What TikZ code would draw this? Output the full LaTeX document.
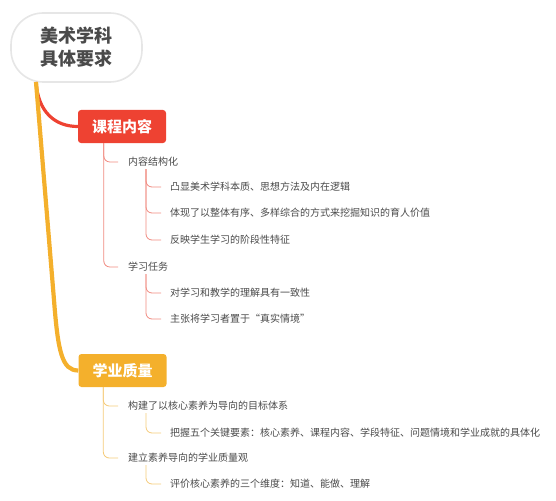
\documentclass[tikz,border=0pt]{standalone}
\usepackage{fontspec}
\newfontfamily\cjk{Noto Sans CJK SC}
\definecolor{txt}{HTML}{4A4A4A}
\definecolor{redm}{HTML}{EE4232}
\definecolor{yelm}{HTML}{F4B02C}
\definecolor{redl}{HTML}{F08A80}
\definecolor{yell}{HTML}{F5CB7A}
\definecolor{rootb}{HTML}{E6E6E6}
\tikzset{
  rootbox/.style={draw=rootb, line width=1.6pt, fill=white, rounded corners=32pt,
    minimum width=131pt, minimum height=69pt, align=center, inner sep=0pt,
    font=\cjk\bfseries\fontsize{18}{23}\selectfont, text=txt},
  mainbox/.style={rounded corners=3pt, minimum width=88pt, minimum height=33pt,
    inner sep=0pt, font=\cjk\bfseries\fontsize{15}{18}\selectfont, text=white},
  leaf/.style={anchor=west, inner sep=0pt, text height=8.5pt, text depth=1.5pt,
    font=\cjk\fontsize{10}{12}\selectfont, text=txt},
  thinr/.style={draw=redl, line width=0.8pt, rounded corners=6pt},
  thiny/.style={draw=yell, line width=0.8pt, rounded corners=6pt}
}
\begin{document}
\begin{tikzpicture}[x=1pt,y=-1pt]
\useasboundingbox (0,0) rectangle (556,500);
% root
\node[rootbox] (root) at (76.5,47.5) {美术学科\\具体要求};
\coordinate (rs) at (36,82);
% main boxes
\node[mainbox, fill=redm] (red) at (122,126.5) {课程内容};
\node[mainbox, fill=yelm] (yel) at (122.5,370.5) {学业质量};
% thick branches
\draw[redm, line width=3.2pt] (rs) .. controls (38,112) and (55,126.5) .. (red.west);
\draw[yelm, line width=4.2pt] (rs) -- (54,300) .. controls (58,352) and (62,370.5) .. (yel.west);
% leaves red
\node[leaf] (c1) at (128,162) {内容结构化};
\node[leaf] (g1) at (170,187) {凸显美术学科本质、思想方法及内在逻辑};
\node[leaf] (g2) at (170,213) {体现了以整体有序、多样综合的方式来挖掘知识的育人价值};
\node[leaf] (g3) at (170,240) {反映学生学习的阶段性特征};
\node[leaf] (c2) at (128,267) {学习任务};
\node[leaf] (g4) at (170,293) {对学习和教学的理解具有一致性};
\node[leaf] (g5) at (170,319) {主张将学习者置于“真实情境”};
% leaves yellow
\node[leaf] (c3) at (128,406) {构建了以核心素养为导向的目标体系};
\node[leaf] (g6) at (170,433) {把握五个关键要素：核心素养、课程内容、学段特征、问题情境和学业成就的具体化};
\node[leaf] (c4) at (128,458) {建立素养导向的学业质量观};
\node[leaf] (g7) at (170,484) {评价核心素养的三个维度：知道、能做、理解};
% connectors red
\draw[thinr] ([xshift=26pt]red.south west) |- ([xshift=-10pt]c1.west);
\draw[thinr] ([xshift=26pt]red.south west) |- ([xshift=-10pt]c2.west);
\draw[thinr] ([xshift=18pt,yshift=-2pt]c1.south west) |- ([xshift=-9pt]g1.west);
\draw[thinr] ([xshift=18pt,yshift=-2pt]c1.south west) |- ([xshift=-9pt]g2.west);
\draw[thinr] ([xshift=18pt,yshift=-2pt]c1.south west) |- ([xshift=-9pt]g3.west);
\draw[thinr] ([xshift=18pt,yshift=-2pt]c2.south west) |- ([xshift=-9pt]g4.west);
\draw[thinr] ([xshift=18pt,yshift=-2pt]c2.south west) |- ([xshift=-9pt]g5.west);
% connectors yellow
\draw[thiny] ([xshift=25pt]yel.south west) |- ([xshift=-10pt]c3.west);
\draw[thiny] ([xshift=25pt]yel.south west) |- ([xshift=-10pt]c4.west);
\draw[thiny] ([xshift=18pt,yshift=-2pt]c3.south west) |- ([xshift=-9pt]g6.west);
\draw[thiny] ([xshift=18pt,yshift=-2pt]c4.south west) |- ([xshift=-9pt]g7.west);
\end{tikzpicture}
\end{document}
